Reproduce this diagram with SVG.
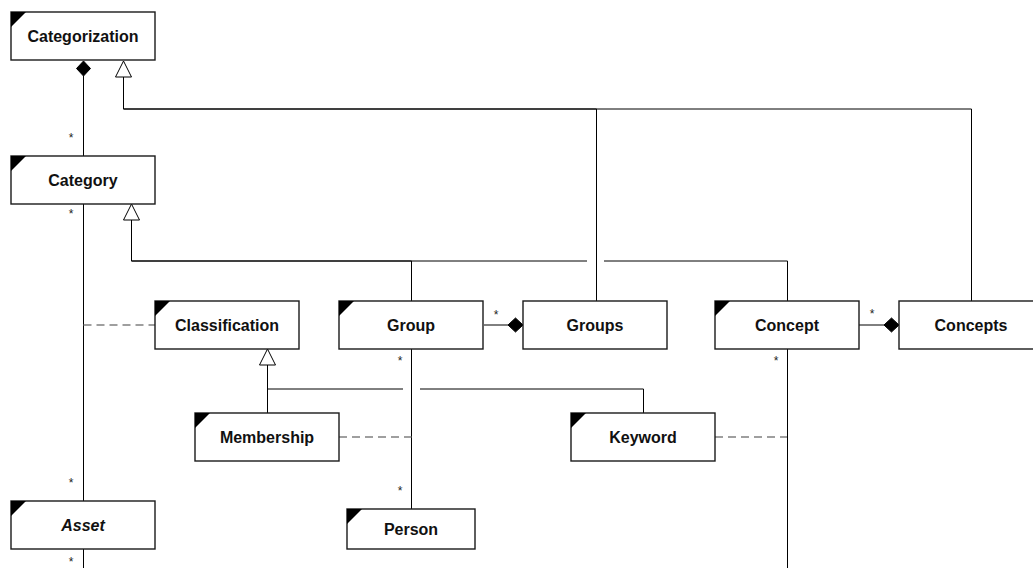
<svg xmlns="http://www.w3.org/2000/svg" width="1033" height="568" viewBox="0 0 1033 568">
  <style>
    .box { fill: #fff; stroke: #1a1a1a; stroke-width: 1.4; }
    .corner { fill: #000; stroke: none; }
    .label { font-family: "Liberation Sans", Arial, sans-serif; font-size: 16px; font-weight: bold; text-anchor: middle; fill: #111; }
    .italic { font-style: italic; }
    .mult { font-family: "Liberation Sans", Arial, sans-serif; font-size: 12px; text-anchor: middle; fill: #222; }
    .line { fill: none; stroke: #000; stroke-width: 1; }
    .dash { fill: none; stroke: #808080; stroke-width: 1.5; stroke-dasharray: 8 5; }
    .hollow { fill: #fff; stroke: #000; stroke-width: 1; }
    .solid { fill: #000; stroke: #000; stroke-width: 1; }
  </style>

  <!-- connectors -->
  <g id="connectors">
    <!-- Categorization composes Category -->
    <path class="line" d="M83.5,76 V156"/>
    <polygon class="solid" points="83.5,61 90.5,68.5 83.5,76 76.5,68.5"/>
    <text class="mult" x="71" y="142">*</text>

    <!-- Groups and Concepts generalize Categorization -->
    <path class="line" d="M596.5,301 V109 H123.5 V77"/>
    <path class="line" d="M971.5,301 V109 H123.5 V77"/>
    <polygon class="hollow" points="123.5,61 131.5,77 115.5,77"/>

    <!-- Group and Concept generalize Category -->
    <path class="line" d="M411.5,301 V261 H131.5 V220"/>
    <path class="line" d="M787.5,301 V261 H604 M587,261 H131.5 V220"/>
    <polygon class="hollow" points="131.5,204 139.5,220 123.5,220"/>

    <!-- Category to Asset -->
    <path class="line" d="M83.5,204 V501"/>
    <text class="mult" x="71" y="218">*</text>
    <text class="mult" x="71" y="487">*</text>
    <path class="line" d="M83.5,549 V568"/>
    <text class="mult" x="71" y="566">*</text>

    <!-- Classification association class -->
    <path class="dash" d="M83.5,325 H155"/>

    <!-- Groups composes Group -->
    <path class="line" d="M484,325 H508"/>
    <polygon class="solid" points="508,325 515.5,318 523,325 515.5,332"/>
    <text class="mult" x="496" y="319">*</text>

    <!-- Group to Person -->
    <path class="line" d="M411.5,349 V509"/>
    <text class="mult" x="400" y="365">*</text>
    <text class="mult" x="400" y="495">*</text>

    <!-- Membership and Keyword generalize Classification -->
    <path class="line" d="M267.5,413 V365"/>
    <path class="line" d="M643.5,413 V389 H420 M403,389 H267.5 V365"/>
    <polygon class="hollow" points="267.5,349 275.5,365 259.5,365"/>

    <!-- association classes on Group–Person and Concept links -->
    <path class="dash" d="M339,437 H411.5"/>
    <path class="dash" d="M715,437 H787.5"/>

    <!-- Concepts composes Concept -->
    <path class="line" d="M859,325 H884"/>
    <polygon class="solid" points="884,325 891.5,318 899,325 891.5,332"/>
    <text class="mult" x="872" y="318">*</text>

    <!-- Concept downward link -->
    <path class="line" d="M787.5,349 V568"/>
    <text class="mult" x="776" y="365">*</text>
  </g>

  <!-- nodes -->
  <g id="categorization">
    <rect class="box" x="11" y="12" width="144" height="48"/>
    <polygon class="corner" points="11,12 26,12 11,27"/>
    <text class="label" x="83" y="42">Categorization</text>
  </g>

  <g id="category">
    <rect class="box" x="11" y="156" width="144" height="48"/>
    <polygon class="corner" points="11,156 26,156 11,171"/>
    <text class="label" x="83" y="186">Category</text>
  </g>

  <g id="classification">
    <rect class="box" x="155" y="301" width="144" height="48"/>
    <polygon class="corner" points="155,301 170,301 155,316"/>
    <text class="label" x="227" y="331">Classification</text>
  </g>

  <g id="group">
    <rect class="box" x="339" y="301" width="144" height="48"/>
    <polygon class="corner" points="339,301 354,301 339,316"/>
    <text class="label" x="411" y="331">Group</text>
  </g>

  <g id="groups">
    <rect class="box" x="523" y="301" width="144" height="48"/>
    <text class="label" x="595" y="331">Groups</text>
  </g>

  <g id="concept">
    <rect class="box" x="715" y="301" width="144" height="48"/>
    <polygon class="corner" points="715,301 730,301 715,316"/>
    <text class="label" x="787" y="331">Concept</text>
  </g>

  <g id="concepts">
    <rect class="box" x="899" y="301" width="144" height="48"/>
    <text class="label" x="971" y="331">Concepts</text>
  </g>

  <g id="membership">
    <rect class="box" x="195" y="413" width="144" height="48"/>
    <polygon class="corner" points="195,413 210,413 195,428"/>
    <text class="label" x="267" y="443">Membership</text>
  </g>

  <g id="keyword">
    <rect class="box" x="571" y="413" width="144" height="48"/>
    <polygon class="corner" points="571,413 586,413 571,428"/>
    <text class="label" x="643" y="443">Keyword</text>
  </g>

  <g id="asset">
    <rect class="box" x="11" y="501" width="144" height="48"/>
    <polygon class="corner" points="11,501 26,501 11,516"/>
    <text class="label italic" x="83" y="531">Asset</text>
  </g>

  <g id="person">
    <rect class="box" x="347" y="509" width="128" height="40"/>
    <polygon class="corner" points="347,509 362,509 347,524"/>
    <text class="label" x="411" y="535">Person</text>
  </g>
</svg>
